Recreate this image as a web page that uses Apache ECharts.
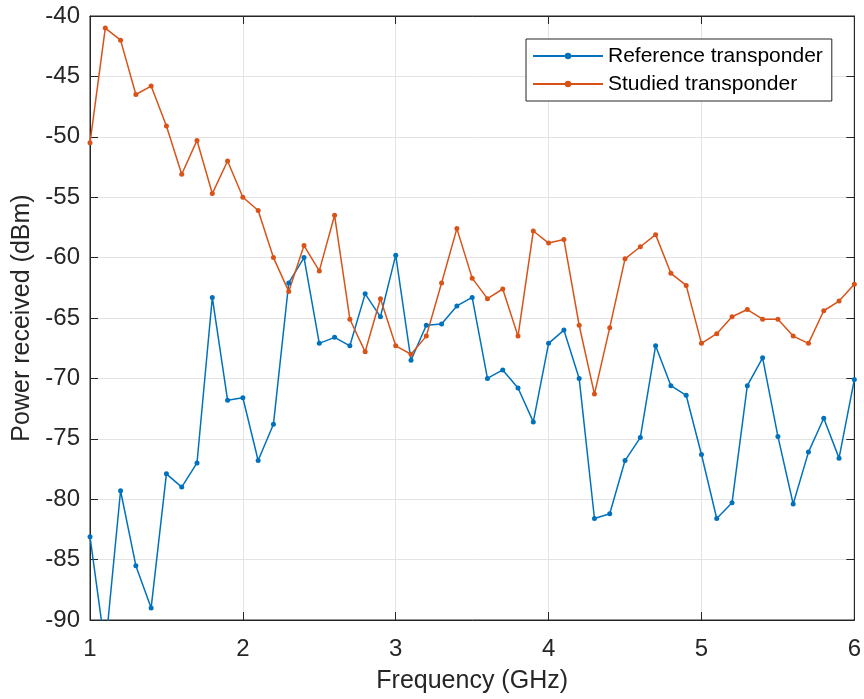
<!DOCTYPE html>
<html>
<head>
<meta charset="utf-8">
<script src="https://cdn.jsdelivr.net/npm/echarts@6/dist/echarts.min.js"></script>
<style>
html,body{margin:0;padding:0;background:#fff;}
#chart{width:864px;height:699px;}
</style>
</head>
<body>
<div id="chart"></div>
<script>
var freq = [1.0,1.1,1.2,1.3,1.4,1.5,1.6,1.7,1.8,1.9,2.0,2.1,2.2,2.3,2.4,2.5,2.6,2.7,2.8,2.9,3.0,3.1,3.2,3.3,3.4,3.5,3.6,3.7,3.8,3.9,4.0,4.1,4.2,4.3,4.4,4.5,4.6,4.7,4.8,4.9,5.0,5.1,5.2,5.3,5.4,5.5,5.6,5.7,5.8,5.9,6.0];
var referencePower = [-83.1,-92.4,-79.3,-85.5,-89.0,-77.9,-79.0,-77.0,-63.3,-71.8,-71.6,-76.8,-73.8,-62.1,-60.0,-67.1,-66.6,-67.3,-63.0,-64.9,-59.8,-68.5,-65.6,-65.5,-64.0,-63.3,-70.0,-69.3,-70.8,-73.6,-67.1,-66.0,-70.0,-81.6,-81.2,-76.8,-74.9,-67.3,-70.6,-71.4,-76.3,-81.6,-80.3,-70.6,-68.3,-74.8,-80.4,-76.1,-73.3,-76.6,-70.1];
var studiedPower = [-50.5,-41.0,-42.0,-46.5,-45.8,-49.1,-53.1,-50.3,-54.7,-52.0,-55.0,-56.1,-60.0,-62.8,-59.0,-61.1,-56.5,-65.1,-67.8,-63.4,-67.3,-68.0,-66.5,-62.1,-57.6,-61.7,-63.4,-62.6,-66.5,-57.8,-58.8,-58.5,-65.6,-71.3,-65.8,-60.1,-59.1,-58.1,-61.3,-62.3,-67.1,-66.3,-64.9,-64.3,-65.1,-65.1,-66.5,-67.1,-64.4,-63.6,-62.2];
var seriesNames = ['Reference transponder','Studied transponder'];
var xTicks = {min:1, max:6, interval:1};
var yTicks = {min:-90, max:-40, interval:5};

function pairs(xs, ys){ return xs.map(function(x,i){ return [x, ys[i]]; }); }

var FONT = '"Liberation Sans", Arial, Helvetica, sans-serif';
var AX = '#262626';
var chart = echarts.init(document.getElementById('chart'), null, {renderer:'canvas'});

var commonLine = function(name, data, color){
  return {
    name: name, type: 'line', data: data,
    xAxisIndex: 0, yAxisIndex: 0,
    symbol: 'circle', symbolSize: 5, showSymbol: true,
    lineStyle: {color: color, width: 1.5},
    itemStyle: {color: color},
    clip: true, animation: false,
    emphasis: {disabled: true}
  };
};

chart.setOption({
  animation: false,
  backgroundColor: '#fff',
  textStyle: {fontFamily: FONT},
  grid: {left: 90, top: 16, width: 766, height: 604, containLabel: false,
         show: true, borderColor: AX, borderWidth: 1, backgroundColor: 'transparent'},
  legend: {
    data: seriesNames, orient: 'vertical', left: 526, top: 39,
    backgroundColor: '#fff', borderColor: AX, borderWidth: 1,
    padding: [6, 9, 6, 6], itemGap: 6, itemWidth: 70, itemHeight: 8,
    textStyle: {fontFamily: FONT, fontSize: 21, color: '#000', lineHeight: 22},
    selectedMode: false
  },
  xAxis: [{
    type: 'value', min: xTicks.min, max: xTicks.max, interval: xTicks.interval,
    name: 'Frequency (GHz)', nameLocation: 'middle', nameGap: 49,
    nameTextStyle: {fontFamily: FONT, fontSize: 25, color: '#262626'},
    axisLine: {show: true, onZero: false, lineStyle: {color: AX, width: 1}},
    axisTick: {show: true, inside: true, length: 8, lineStyle: {color: AX}},
    axisLabel: {fontFamily: FONT, fontSize: 24, color: '#262626', margin: 17},
    splitLine: {show: true, lineStyle: {color: '#e3e3e3', width: 1}}
  },{
    type: 'value', position: 'top', min: xTicks.min, max: xTicks.max, interval: xTicks.interval,
    axisLine: {show: true, onZero: false, lineStyle: {color: AX, width: 1}},
    axisTick: {show: true, inside: true, length: 8, lineStyle: {color: AX}},
    axisLabel: {show: false}, splitLine: {show: false}
  }],
  yAxis: [{
    type: 'value', min: yTicks.min, max: yTicks.max, interval: yTicks.interval,
    name: 'Power received (dBm)', nameLocation: 'middle', nameGap: 50, nameRotate: 90,
    nameTextStyle: {fontFamily: FONT, fontSize: 25, color: '#262626'},
    axisLine: {show: true, onZero: false, lineStyle: {color: AX, width: 1}},
    axisTick: {show: true, inside: true, length: 8, lineStyle: {color: AX}},
    axisLabel: {fontFamily: FONT, fontSize: 24, color: '#262626', margin: 10},
    splitLine: {show: true, lineStyle: {color: '#e3e3e3', width: 1}}
  },{
    type: 'value', position: 'right', min: yTicks.min, max: yTicks.max, interval: yTicks.interval,
    axisLine: {show: true, onZero: false, lineStyle: {color: AX, width: 1}},
    axisTick: {show: true, inside: true, length: 8, lineStyle: {color: AX}},
    axisLabel: {show: false}, splitLine: {show: false}
  }],
  series: [
    commonLine(seriesNames[0], pairs(freq, referencePower), '#0072BD'),
    commonLine(seriesNames[1], pairs(freq, studiedPower), '#D95319')
  ]
});
</script>
</body>
</html>
